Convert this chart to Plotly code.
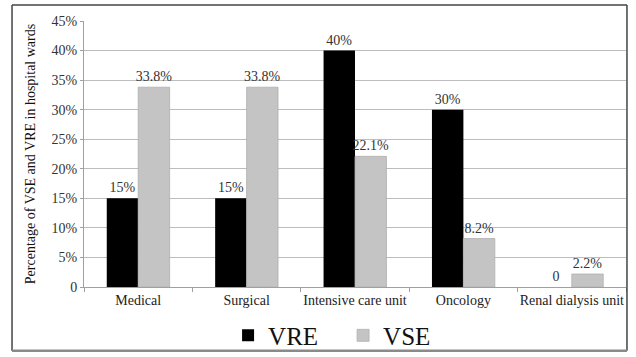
import plotly.graph_objects as go

wards = ["Medical", "Surgical", "Intensive care unit", "Oncology", "Renal dialysis unit"]
vre = [15, 15, 40, 30, 0]
vse = [33.8, 33.8, 22.1, 8.2, 2.2]
vre_labels = ["15%", "15%", "40%", "30%", "0"]
vse_labels = ["33.8%", "33.8%", "22.1%", "8.2%", "2.2%"]
y_ticks = [0, 5, 10, 15, 20, 25, 30, 35, 40, 45]
y_tick_text = ["0"] + [f"{v}%" for v in y_ticks[1:]]

serif = "Liberation Serif"

fig = go.Figure()
fig.add_trace(go.Bar(
    name="VRE", x=wards, y=vre, text=vre_labels, textposition="outside",
    marker=dict(color="#000000", line=dict(width=0)),
    textfont=dict(family=serif, size=14, color="#333333"),
    cliponaxis=False, constraintext="none",
))
fig.add_trace(go.Bar(
    name="VSE", x=wards, y=vse, text=vse_labels, textposition="outside",
    marker=dict(color="#c4c4c4", line=dict(color="#b0b0b0", width=0.8)),
    textfont=dict(family=serif, size=14, color="#333333"),
    cliponaxis=False, constraintext="none",
))

# frame around the whole chart, in pixel-based paper coordinates
x_left, x_right, y_top, y_bottom = -0.1328, 1.0018, 1.060, -0.240
frame_dark = dict(color="#444444", width=1.5)
frame_shapes = [
    dict(type="line", xref="paper", yref="paper", x0=x_left, x1=x_left, y0=y_bottom, y1=y_top, line=frame_dark),
    dict(type="line", xref="paper", yref="paper", x0=x_left, x1=x_right, y0=y_top, y1=y_top, line=frame_dark),
    dict(type="line", xref="paper", yref="paper", x0=x_right, x1=x_right, y0=y_bottom, y1=y_top, line=frame_dark),
    dict(type="line", xref="paper", yref="paper", x0=x_left, x1=x_right, y0=y_bottom, y1=y_bottom,
         line=dict(color="#8a8a8a", width=2.5)),
]

fig.update_layout(
    width=636, height=357,
    margin=dict(l=84, r=10, t=21, b=70, autoexpand=False),
    paper_bgcolor="white", plot_bgcolor="white",
    barmode="group", bargap=0.42, bargroupgap=0,
    font=dict(family=serif, size=14, color="#333333"),
    showlegend=True,
    legend=dict(orientation="h", x=0.478, xanchor="center",
                yref="container", y=0.06, yanchor="middle",
                bgcolor="rgba(0,0,0,0)", entrywidth=70,
                font=dict(family=serif, size=25, color="#111111")),
    xaxis=dict(showgrid=False, showline=True, linecolor="#a0a0a0", linewidth=1,
               ticks="outside", tickson="boundaries", ticklen=4, tickcolor="#a0a0a0",
               tickangle=0,
               tickfont=dict(family=serif, size=14, color="#222222")),
    yaxis=dict(range=[0, 45], tickvals=y_ticks, ticktext=y_tick_text,
               showgrid=True, gridcolor="#bdbdbd", gridwidth=1,
               showline=True, linecolor="#a0a0a0", linewidth=1,
               ticks="outside", ticklen=3, tickcolor="#a0a0a0", zeroline=False,
               tickfont=dict(family=serif, size=14, color="#333333"),
               title=dict(text="Percentage of VSE and VRE in hospital wards",
                          font=dict(family=serif, size=14, color="#111111"), standoff=12)),
    shapes=frame_shapes,
)

fig.write_html("out.html")
